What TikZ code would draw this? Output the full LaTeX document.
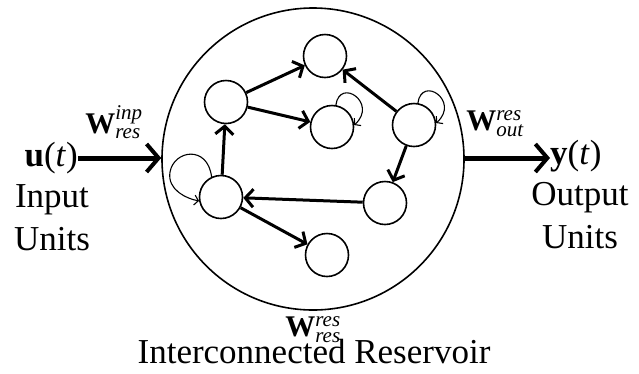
\documentclass[tikz,border=0pt]{standalone}
\usepackage{amsmath}
\usepackage{fontspec}
\setmainfont{Liberation Serif}
\usetikzlibrary{arrows.meta}
\begin{document}
\begin{tikzpicture}[x=1pt,y=-1pt,
    unit/.style={draw,circle,line width=1.6pt,minimum size=43pt,inner sep=0pt},
    link/.style={line width=3pt,-{Straight Barb[length=8pt,width=18pt,line width=3pt]}},
    feed/.style={line width=5pt,-{Straight Barb[length=12pt,width=28pt,line width=4pt]}},
    selfloop/.style={line width=1.1pt,-{Straight Barb[length=4pt,width=10pt]}},
    lbl/.style={font=\fontsize{35}{40}\selectfont,inner sep=0pt,anchor=base},
    wlbl/.style={font=\fontsize{30}{34}\selectfont,inner sep=0pt,anchor=base}]
  \useasboundingbox (0,0) rectangle (639,373);
  % reservoir
  \node[draw,circle,line width=1.6pt,minimum size=302pt] (res) at (313,159) {};
  \node[unit] (a) at (226,102) {};
  \node[unit] (b) at (325,56) {};
  \node[unit] (c) at (332,127) {};
  \node[unit] (d) at (414,125) {};
  \node[unit] (e) at (221,197) {};
  \node[unit] (f) at (385,203) {};
  \node[unit] (g) at (327,255) {};
  \draw[link] (a) -- (b);
  \draw[link] (a) -- (c);
  \draw[link] (e) -- (a);
  \draw[link] (d) -- (b);
  \draw[link] (d) -- (f);
  \draw[link] (f) -- (e);
  \draw[link] (e) -- (g);
  % self loops
  \draw[selfloop] (c.80) .. controls +(4,-28) and +(24,-22) .. (c.5);
  \draw[selfloop] (d.80) .. controls +(4,-28) and +(24,-22) .. (d.5);
  \draw[selfloop] (e.115) .. controls +(-4,-32) and +(4,-22) .. (170,172)
    .. controls +(-3,18) and +(-12,-2) .. (e.190);
  % input and output
  \coordinate (lvl) at (0,158);
  \node[lbl,anchor=base east] (uin) at (78,166) {\textbf{u}(\textit{t})};
  \node[lbl] (inp) at (52,207) {Input};
  \node[lbl] (inu) at (52,250) {Units};
  \node[wlbl] (win) at (114,133) {\textbf{W}$^{\textit{inp}}_{\textit{res}}$};
  \node[lbl,anchor=base west] (yout) at (550,164) {\textbf{y}(\textit{t})};
  \node[lbl] (outp) at (580,205) {Output};
  \node[lbl] (outu) at (580,248) {Units};
  \node[wlbl] (wout) at (495,130) {\textbf{W}$^{\textit{res}}_{\textit{out}}$};
  \draw[feed] (uin.east |- lvl) -- (res.west |- lvl);
  \draw[feed] (res.east |- lvl) -- (yout.west |- lvl);
  \node[wlbl] (wres) at (313,336) {\textbf{W}$^{\textit{res}}_{\textit{res}}$};
  \node[lbl] (title) at (314,363) {Interconnected Reservoir};
\end{tikzpicture}
\end{document}
